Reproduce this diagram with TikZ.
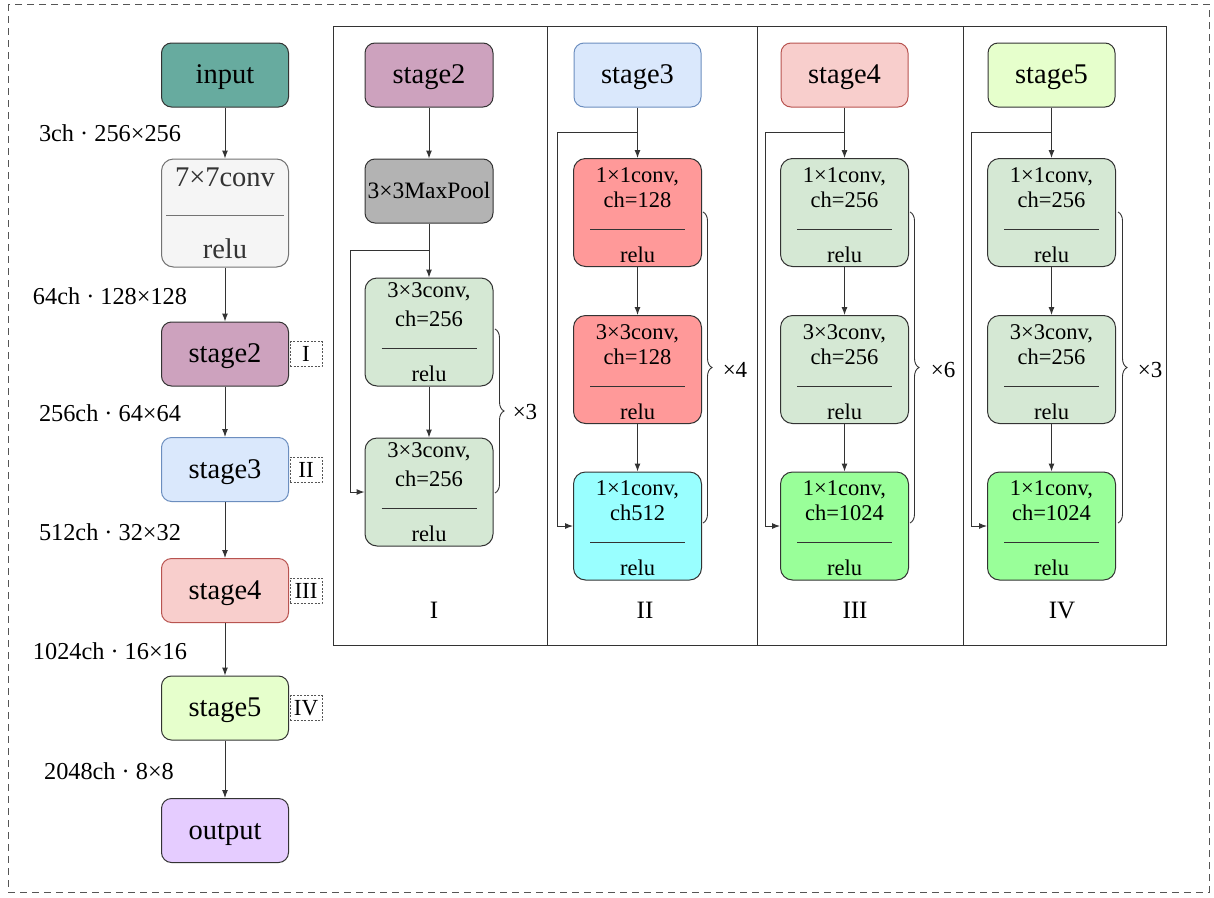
\documentclass[tikz,border=0pt]{standalone}
\usepackage{fontspec}
\setmainfont{Liberation Serif}
\usetikzlibrary{arrows.meta,calc,decorations.pathreplacing}
\definecolor{cinput}{HTML}{67AB9F}
\definecolor{cconvseven}{HTML}{F5F5F5}
\definecolor{cstagetwo}{HTML}{CDA2BE}
\definecolor{cstagethree}{HTML}{DAE8FC}
\definecolor{cstagethreeb}{HTML}{6C8EBF}
\definecolor{cstagefour}{HTML}{F8CECC}
\definecolor{cstagefourb}{HTML}{B85450}
\definecolor{cstagefive}{HTML}{E6FFCC}
\definecolor{coutput}{HTML}{E5CCFF}
\definecolor{cpool}{HTML}{B3B3B3}
\definecolor{clgreen}{HTML}{D5E8D4}
\definecolor{cred}{HTML}{FF9999}
\definecolor{ccyan}{HTML}{99FFFF}
\definecolor{cgreen}{HTML}{99FF99}
\definecolor{cline}{HTML}{333333}
\definecolor{cdash}{HTML}{555555}
\newcommand{\cbody}[4]{%
  \node[ctxt,anchor=base] (#1-a) at ($(#1.north)+(0,#4)$) {#2};
  \node[ctxt,anchor=base] (#1-b) at ($(#1.north)+(0,49)$) {#3};
  \draw[sepline] ($(#1.north)+(-47.5,71)$) -- ($(#1.north)+(47.5,71)$);
  \node[ctxt,anchor=base] (#1-c) at ($(#1.north)+(0,104)$) {relu};
}
\begin{document}
\begin{tikzpicture}[x=1pt,y=-1pt,
  blk/.style={draw=cline,line width=1pt,rounded corners=10pt,minimum width=127pt,minimum height=64pt,inner sep=0pt,text height=17pt,text depth=0pt,font=\fontsize{28.5}{30}\selectfont},
  convbox/.style={draw=cline,line width=1pt,rounded corners=12pt,minimum width=128pt,minimum height=108pt,inner sep=0pt},
  ctxt/.style={inner sep=0pt,font=\fontsize{22.5}{24}\selectfont},
  sepline/.style={draw=cline,line width=0.9pt},
  arr/.style={draw=cline,line width=1pt,-{Latex[length=8pt,width=6pt]}},
  plain/.style={draw=cline,line width=1pt},
  elabel/.style={inner sep=0pt,font=\fontsize{24.3}{26}\selectfont},
  tagbox/.style={draw=cdash,dash pattern=on 2pt off 1.5pt,line width=0.8pt,minimum width=32pt,minimum height=25pt,inner sep=0pt,font=\fontsize{23}{24}\selectfont},
  plabel/.style={inner sep=0pt,font=\fontsize{25}{26}\selectfont},
  brc/.style={draw=cline,line width=0.9pt,decorate,decoration={brace,amplitude=9pt,aspect=0.5}},
  xlabel/.style={inner sep=0pt,font=\fontsize{23}{24}\selectfont}
]
\useasboundingbox (0,0) rectangle (1214,897);
\fill[white] (0,0) rectangle (1214,897);
\draw[draw=cdash,line width=1pt,dash pattern=on 7pt off 5pt] (8,4) rectangle (1209,892);

% ---------------- left column ----------------
\node[blk,fill=cinput] (in) at (225,75) {input};
\node[blk,fill=cconvseven,draw=black!55,minimum height=108pt,rounded corners=12pt] (c7) at (225,213) {};
\node[inner sep=0pt,anchor=base,text=cline,font=\fontsize{28.5}{30}\selectfont] (c7a) at ($(c7.north)+(0,28)$) {7×7conv};
\draw[draw=black!55,line width=1pt] ($(c7.north)+(-59,57)$) -- ($(c7.north)+(59,57)$);
\node[inner sep=0pt,anchor=base,text=cline,font=\fontsize{28.5}{30}\selectfont] (c7b) at ($(c7.north)+(0,100)$) {relu};
\node[blk,fill=cstagetwo] (s2) at (225,354) {stage2};
\node[blk,fill=cstagethree,draw=cstagethreeb] (s3) at (225,469.5) {stage3};
\node[blk,fill=cstagefour,draw=cstagefourb] (s4) at (225,590.5) {stage4};
\node[blk,fill=cstagefive] (s5) at (225,708) {stage5};
\node[blk,fill=coutput] (out) at (225,830.5) {output};

\draw[arr] (in) -- (c7);
\draw[arr] (c7) -- (s2);
\draw[arr] (s2) -- (s3);
\draw[arr] (s3) -- (s4);
\draw[arr] (s4) -- (s5);
\draw[arr] (s5) -- (out);

\node[elabel] (l1) at (110,133) {3ch · 256×256};
\node[elabel] (l2) at (110,296) {64ch · 128×128};
\node[elabel] (l3) at (110,413) {256ch · 64×64};
\node[elabel] (l4) at (110,532) {512ch · 32×32};
\node[elabel] (l5) at (110,651) {1024ch · 16×16};
\node[elabel] (l6) at (109,771) {2048ch · 8×8};

\node[tagbox] (t1) at (306,354) {I};
\node[tagbox] (t2) at (306,469.5) {II};
\node[tagbox] (t3) at (306,590.5) {III};
\node[tagbox] (t4) at (306,708) {IV};

% ---------------- panels frame ----------------
\draw[plain] (333,26) rectangle (1166,645);
\draw[plain] (547,26) -- (547,645);
\draw[plain] (757,26) -- (757,645);
\draw[plain] (963,26) -- (963,645);

% ---------------- panel I ----------------
\node[blk,fill=cstagetwo,minimum width=128pt] (p1s) at (429,75) {stage2};
\node[blk,fill=cpool,minimum width=128pt,text height=15pt,font=\fontsize{23.5}{25}\selectfont] (p1m) at (429,191) {3×3MaxPool};
\node[convbox,fill=clgreen] (p1a) at (429,332) {};
\cbody{p1a}{3×3conv,}{ch=256}{20}
\node[convbox,fill=clgreen] (p1b) at (429,492) {};
\cbody{p1b}{3×3conv,}{ch=256}{20}
\draw[arr] (p1s) -- (p1m);
\draw[arr] (p1m) -- (p1a);
\draw[arr] (p1a) -- (p1b);
\coordinate (j1) at ($(p1m.south)!0.5!(p1a.north)$);
\draw[arr] (j1) -| ([xshift=-14pt]p1b.west) -- (p1b.west);
\draw[brc] (495,329) -- (495,493);
\node[xlabel] (x1) at (525,412) {×3};
\node[plabel] (n1) at (434,610) {I};

% ---------------- panel II ----------------
\node[blk,fill=cstagethree,draw=cstagethreeb] (p2s) at (637.5,75) {stage3};
\node[convbox,fill=cred] (p2a) at (637.5,212.5) {};
\cbody{p2a}{1×1conv,}{ch=128}{24}
\node[convbox,fill=cred] (p2b) at (637.5,369.5) {};
\cbody{p2b}{3×3conv,}{ch=128}{24}
\node[convbox,fill=ccyan] (p2c) at (637.5,526) {};
\cbody{p2c}{1×1conv,}{ch512}{24}
\draw[arr] (p2s) -- (p2a);
\draw[arr] (p2a) -- (p2b);
\draw[arr] (p2b) -- (p2c);
\coordinate (j2) at ($(p2s.south)!0.5!(p2a.north)$);
\draw[arr] (j2) -| ([xshift=-16pt]p2c.west) -- (p2c.west);
\draw[brc] (703,212) -- (703,523);
\node[xlabel] (x2) at (735,370) {×4};
\node[plabel] (n2) at (645,610) {II};

% ---------------- panel III ----------------
\node[blk,fill=cstagefour,draw=cstagefourb] (p3s) at (844.5,75) {stage4};
\node[convbox,fill=clgreen] (p3a) at (844.5,212.5) {};
\cbody{p3a}{1×1conv,}{ch=256}{24}
\node[convbox,fill=clgreen] (p3b) at (844.5,369.5) {};
\cbody{p3b}{3×3conv,}{ch=256}{24}
\node[convbox,fill=cgreen] (p3c) at (844.5,526) {};
\cbody{p3c}{1×1conv,}{ch=1024}{24}
\draw[arr] (p3s) -- (p3a);
\draw[arr] (p3a) -- (p3b);
\draw[arr] (p3b) -- (p3c);
\coordinate (j3) at ($(p3s.south)!0.5!(p3a.north)$);
\draw[arr] (j3) -| ([xshift=-15pt]p3c.west) -- (p3c.west);
\draw[brc] (910,212) -- (910,523);
\node[xlabel] (x3) at (943,370) {×6};
\node[plabel] (n3) at (855,610) {III};

% ---------------- panel IV ----------------
\node[blk,fill=cstagefive] (p4s) at (1051.5,75) {stage5};
\node[convbox,fill=clgreen] (p4a) at (1051.5,212.5) {};
\cbody{p4a}{1×1conv,}{ch=256}{24}
\node[convbox,fill=clgreen] (p4b) at (1051.5,369.5) {};
\cbody{p4b}{3×3conv,}{ch=256}{24}
\node[convbox,fill=cgreen] (p4c) at (1051.5,526) {};
\cbody{p4c}{1×1conv,}{ch=1024}{24}
\draw[arr] (p4s) -- (p4a);
\draw[arr] (p4a) -- (p4b);
\draw[arr] (p4b) -- (p4c);
\coordinate (j4) at ($(p4s.south)!0.5!(p4a.north)$);
\draw[arr] (j4) -| ([xshift=-16pt]p4c.west) -- (p4c.west);
\draw[brc] (1118,212) -- (1118,523);
\node[xlabel] (x4) at (1150,370) {×3};
\node[plabel] (n4) at (1062,610) {IV};
\end{tikzpicture}
\end{document}
